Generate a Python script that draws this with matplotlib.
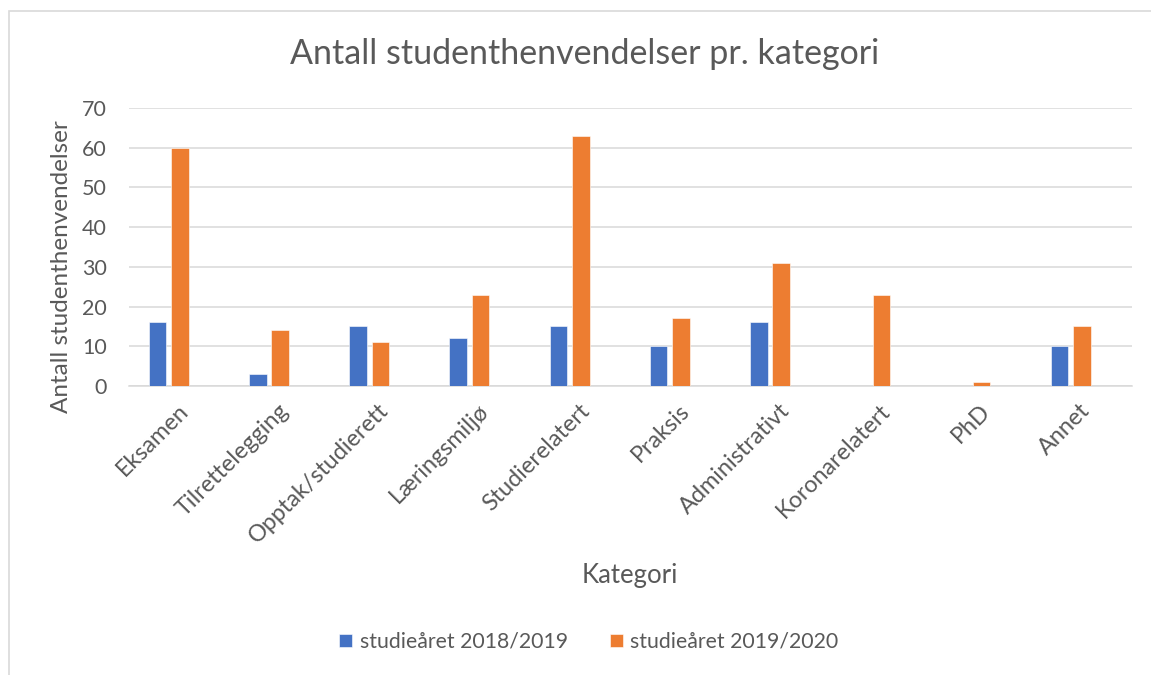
import matplotlib

matplotlib.use("Agg")
import matplotlib.pyplot as plt
from matplotlib.patches import Rectangle
import matplotlib.transforms as mtransforms
import numpy as np

categories = [
    "Eksamen", "Tilrettelegging", "Opptak/studierett", "Læringsmiljø", "Studierelatert",
    "Praksis", "Administrativt", "Koronarelatert", "PhD", "Annet",
]
series_names = ["studieåret 2018/2019", "studieåret 2019/2020"]
values_2018_2019 = [16, 3, 15, 12, 15, 10, 16, 0, 0, 10]
values_2019_2020 = [60, 14, 11, 23, 63, 17, 31, 23, 1, 15]
y_ticks = [0, 10, 20, 30, 40, 50, 60, 70]

TEXT = "#595959"
GRID = "#D9D9D9"
COLORS = ["#4472C4", "#ED7D31"]

plt.rcParams.update({"font.family": ["Lato", "DejaVu Sans"]})

W, H = 1151, 675
fig = plt.figure(figsize=(W / 100, H / 100), dpi=100)

# frame of the chart area (only left and top visible in the reference)
fig.patches.append(Rectangle((8.5 / W, -0.05), 1.1, 1.05 - 10.5 / H, transform=fig.transFigure,
                             fill=False, edgecolor=GRID, linewidth=1.2))

ax = fig.add_axes([129 / W, 1 - 386 / H, (1132 - 129) / W, (386 - 108) / H])

x = np.arange(len(categories))
width = 0.175
ax.bar(x - 0.112, values_2018_2019, width, color=COLORS[0], label=series_names[0],
       edgecolor="white", linewidth=0.4, zorder=3)
ax.bar(x + 0.112, values_2019_2020, width, color=COLORS[1], label=series_names[1],
       edgecolor="white", linewidth=0.4, zorder=3)

ax.set_xlim(-0.397, 9.613)
ax.set_ylim(0, 70)
ax.set_yticks(y_ticks)
ax.yaxis.grid(True, color=GRID, linewidth=1.1, zorder=0)
ax.set_axisbelow(True)
for side in ["top", "right", "left"]:
    ax.spines[side].set_visible(False)
ax.spines["bottom"].set_color(GRID)
ax.spines["bottom"].set_linewidth(1.1)
ax.tick_params(axis="both", length=0, colors=TEXT, labelsize=15.5)
ax.tick_params(axis="y", pad=16)

ax.set_xticks(x)
ax.set_xticklabels(categories, rotation=45, ha="right", rotation_mode="anchor", color=TEXT, fontsize=16.8)
ax.tick_params(axis="x", pad=10)
shift = mtransforms.ScaledTranslation(9 / 100, 0, fig.dpi_scale_trans)
for lbl in ax.get_xticklabels():
    lbl.set_transform(lbl.get_transform() + shift)

fig.text(585 / W, 1 - 54 / H, "Antall studenthenvendelser pr. kategori", fontsize=24.5,
         color=TEXT, ha="center", va="center")
ax.set_ylabel("Antall studenthenvendelser", fontsize=17.5, color=TEXT)
ax.yaxis.set_label_coords(-0.057, 0.43)
ax.set_xlabel("Kategori", fontsize=18.5, color=TEXT)
ax.xaxis.set_label_coords(0.499, -0.635)

fig.legend(loc="center", bbox_to_anchor=(589 / W, 1 - 642 / H), ncol=2, frameon=False,
           fontsize=15.3, labelcolor=TEXT, handlelength=0.6, handleheight=0.6,
           handletextpad=0.35, columnspacing=2.0)

fig.savefig("out.png", dpi=100)
